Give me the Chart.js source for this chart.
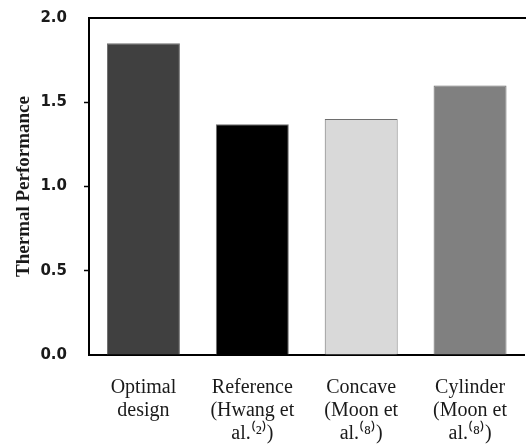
<!DOCTYPE html>
<html>
<head>
<meta charset="utf-8">
<script src="https://cdn.jsdelivr.net/npm/chart.js@4"></script>
<style>
  html, body { margin: 0; padding: 0; background: #fff; overflow: hidden; }
  #wrap { width: 528px; height: 448px; }
</style>
</head>
<body>
<div id="wrap"><canvas id="perfChart"></canvas></div>
<script>
// categories (multi-line labels), values and colours
const categories = [
    ['Optimal', 'design'],
    ['Reference', '(Hwang et', 'al.\u207D\u00B2\u207E)'],
    ['Concave', '(Moon et', 'al.\u207D\u2078\u207E)'],
    ['Cylinder', '(Moon et', 'al.\u207D\u2078\u207E)']
];
const thermalPerformance = [1.85, 1.37, 1.40, 1.60];
const barColors = ['#404040', '#000000', '#d9d9d9', '#808080'];
const yTicks = [0.0, 0.5, 1.0, 1.5, 2.0];

// top frame line (plot box is open on the right)
const topBorder = {
    id: 'topBorder',
    afterDraw(chart) {
        const { ctx, chartArea } = chart;
        ctx.save();
        ctx.strokeStyle = '#000';
        ctx.lineWidth = 2;
        ctx.beginPath();
        ctx.moveTo(chartArea.left - 1, chartArea.top);
        ctx.lineTo(chart.width, chartArea.top);
        ctx.stroke();
        ctx.restore();
    }
};

document.addEventListener('DOMContentLoaded', function() {
    const ctx = document.getElementById('perfChart').getContext('2d');

    new Chart(ctx, {
        type: 'bar',
        data: {
            labels: categories,
            datasets: [{
                label: 'Thermal Performance',
                data: thermalPerformance,
                backgroundColor: barColors,
                borderColor: '#6e6e6e',
                borderWidth: 1,
                barPercentage: 0.67,
                categoryPercentage: 1
            }]
        },
        options: {
            responsive: true,
            maintainAspectRatio: false,
            animation: false,
            layout: { padding: { top: 18, left: 0, right: 0, bottom: 0 } },
            plugins: {
                legend: { display: false },
                tooltip: { enabled: false }
            },
            scales: {
                x: {
                    grid: { display: false, drawTicks: false },
                    border: { display: true, color: '#000', width: 2 },
                    ticks: {
                        color: '#1a1a1a',
                        padding: 21,
                        maxRotation: 0,
                        autoSkip: false,
                        font: { family: '"Liberation Serif", "Times New Roman", serif', size: 20, lineHeight: '23px' }
                    },
                    afterFit(scale) { scale.height = 93; }
                },
                y: {
                    min: 0,
                    max: 2,
                    afterBuildTicks(scale) {
                        scale.ticks = yTicks.map(v => ({ value: v }));
                    },
                    grid: {
                        drawOnChartArea: false,
                        drawTicks: true,
                        tickLength: 5,
                        tickWidth: 1.5,
                        color: ctx => (ctx.tick && (ctx.tick.value === 0 || ctx.tick.value === 2)) ? 'rgba(0,0,0,0)' : '#000'
                    },
                    border: { display: true, color: '#000', width: 2 },
                    ticks: {
                        color: '#1a1a1a',
                        padding: 17,
                        callback: v => Number(v).toFixed(1),
                        font: { family: '"DejaVu Sans", sans-serif', size: 15, weight: 'bold' }
                    },
                    title: {
                        display: true,
                        text: 'Thermal Performance',
                        color: '#1a1a1a',
                        padding: { top: 13, bottom: 0 },
                        font: { family: '"Liberation Serif", "Times New Roman", serif', size: 19, weight: 'bold' }
                    },
                    afterFit(scale) {
                        scale.width = 89;
                        scale.paddingTop = 0;
                        scale.paddingBottom = 0;
                    }
                }
            }
        },
        plugins: [topBorder]
    });
});
</script>
</body>
</html>
